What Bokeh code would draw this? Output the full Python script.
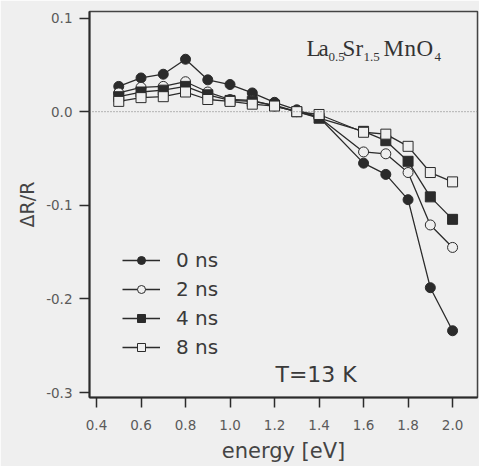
from bokeh.plotting import figure
from bokeh.models import Range1d, FixedTicker, Span, Label, Legend, LegendItem, CustomJSTickFormatter
from bokeh.embed import file_html
from bokeh.resources import INLINE

energy = [0.5, 0.6, 0.7, 0.8, 0.9, 1.0, 1.1, 1.2, 1.3, 1.4, 1.6, 1.7, 1.8, 1.9, 2.0]
dr_0ns = [0.027, 0.036, 0.040, 0.056, 0.034, 0.029, 0.020, 0.010, 0.002, -0.006, -0.055, -0.067, -0.094, -0.188, -0.234]
dr_2ns = [0.020, 0.026, 0.027, 0.032, 0.021, 0.013, 0.012, 0.006, 0.000, -0.006, -0.043, -0.045, -0.065, -0.121, -0.145]
dr_4ns = [0.016, 0.021, 0.023, 0.027, 0.018, 0.012, 0.011, 0.007, 0.000, -0.007, -0.021, -0.031, -0.053, -0.091, -0.115]
dr_8ns = [0.011, 0.015, 0.016, 0.021, 0.013, 0.011, 0.008, 0.006, 0.000, -0.003, -0.022, -0.024, -0.037, -0.065, -0.075]
series_labels = ["0 ns", "2 ns", "4 ns", "8 ns"]
x_ticks = [0.4, 0.6, 0.8, 1.0, 1.2, 1.4, 1.6, 1.8, 2.0]
y_ticks = [0.1, 0.0, -0.1, -0.2, -0.3]

BG = "#efefef"
INK = "#2b2b2b"
SANS = "DejaVu Sans"
SERIF = "Liberation Serif"

p = figure(width=479, height=466, output_backend="svg", toolbar_location=None,
           x_range=Range1d(0.3685, 2.112), y_range=Range1d(-0.3053, 0.107),
           min_border_left=89, min_border_right=2, min_border_top=11, min_border_bottom=69)
p.background_fill_color = BG
p.border_fill_color = BG
p.outline_line_color = "#444444"
p.outline_line_width = 1.5
p.grid.visible = False

for ax in (p.xaxis[0], p.yaxis[0]):
    ax.axis_line_color = INK
    ax.axis_line_width = 2
    ax.major_tick_line_color = INK
    ax.major_tick_line_width = 1.5
    ax.major_tick_out = 10
    ax.major_tick_in = 0
    ax.minor_tick_out = 0
    ax.minor_tick_in = 0
    ax.major_label_text_font = SANS
    ax.major_label_text_font_size = "13.5px"
    ax.major_label_text_color = "#5a5a5a"
    ax.axis_label_text_font = SANS
    ax.axis_label_text_font_style = "normal"
    ax.axis_label_text_color = "#444444"

p.xaxis.ticker = FixedTicker(ticks=x_ticks)
p.yaxis.ticker = FixedTicker(ticks=y_ticks)
p.xaxis.formatter = CustomJSTickFormatter(code="return tick.toFixed(1);")
p.yaxis.formatter = CustomJSTickFormatter(code="return tick.toFixed(1);")
p.xaxis.major_label_standoff = 12
p.yaxis.major_label_standoff = 7
p.xaxis.axis_label = "energy [eV]"
p.xaxis.axis_label_text_font_size = "21px"
p.xaxis.axis_label_standoff = 6
p.yaxis.axis_label = "ΔR/R"
p.yaxis.axis_label_text_font_size = "19px"
p.yaxis.axis_label_standoff = 5

p.add_layout(Span(location=0, dimension="width", line_color="#777777",
                  line_width=1, line_dash="1 2"))

styles = [
    (dr_0ns, "circle", INK),
    (dr_2ns, "circle", BG),
    (dr_4ns, "square", INK),
    (dr_8ns, "square", BG),
]
items = []
for (vals, marker, fill), lab in zip(styles, series_labels):
    r1 = p.line(energy, vals, line_color=INK, line_width=1.3)
    r2 = p.scatter(energy, vals, marker=marker, size=10,
                   fill_color=fill, line_color=INK, line_width=1)
    items.append(LegendItem(label=lab, renderers=[r1, r2]))

legend = Legend(items=items, location=(33, 38), orientation="vertical",
                glyph_width=38, glyph_height=20, label_height=20, spacing=5,
                label_standoff=16, padding=0, margin=0,
                background_fill_alpha=0, border_line_alpha=0,
                label_text_font=SANS, label_text_font_size="20px",
                label_text_color="#3a3a3a")
p.add_layout(legend)

# T = 13 K annotation
p.add_layout(Label(x=275 - 89, y=397 - 374, x_units="screen", y_units="screen",
                   text="T=13 K", text_font=SANS, text_font_size="22px",
                   text_color="#3a3a3a", text_baseline="alphabetic"))

# La0.5Sr1.5MnO4 compound label
main_base = 397 - 48
sub_base = 397 - 56
parts = [("L", 306, False), ("a", 318, False), ("0.5", 328, True),
         ("S", 342, False), ("r", 355, False), ("1.5", 363, True),
         ("M", 383, False), ("n", 404, False), ("O", 416, False), ("4", 434, True)]
for txt, px, sub in parts:
    p.add_layout(Label(x=px - 89, y=sub_base if sub else main_base,
                       x_units="screen", y_units="screen", text=txt,
                       text_font=SERIF, text_font_size="13px" if sub else "23px",
                       text_color="#333333", text_baseline="alphabetic"))

open("out.html", "w").write(file_html(p, INLINE))
